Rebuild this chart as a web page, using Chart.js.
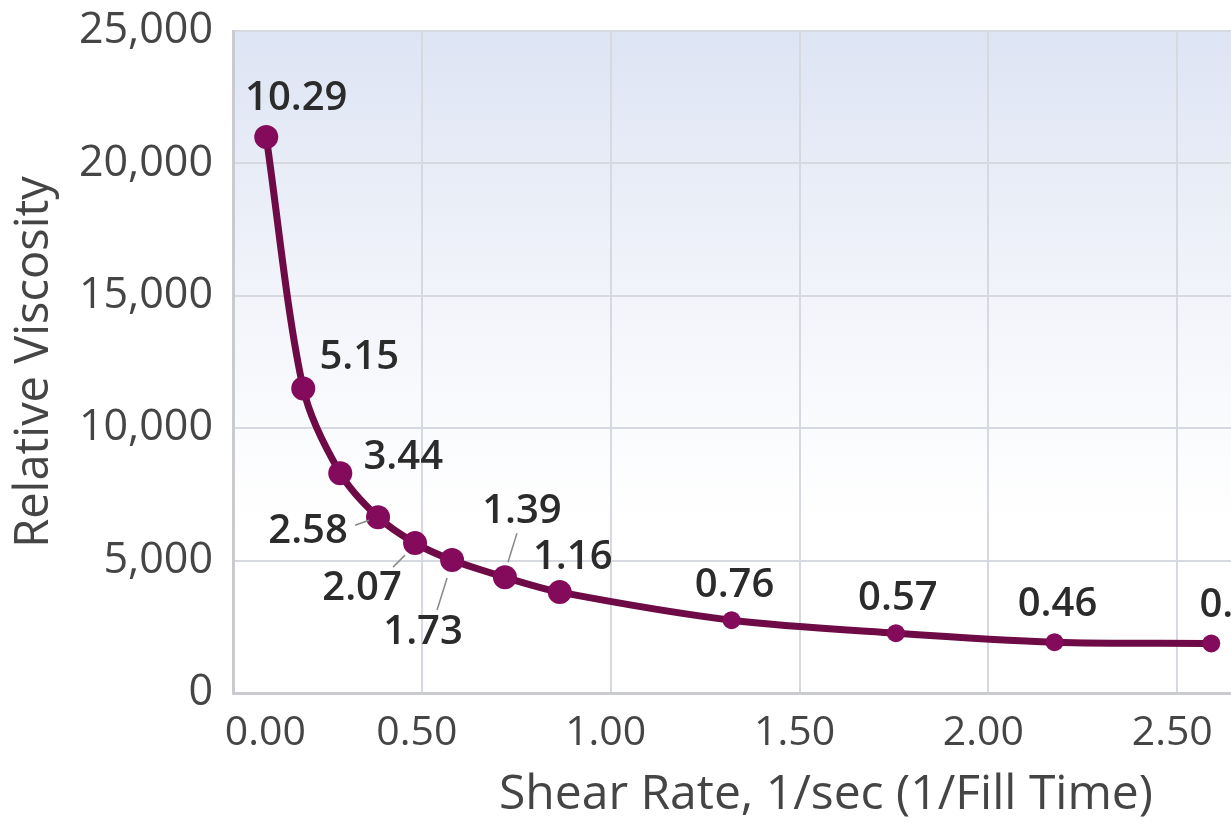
<!DOCTYPE html>
<html lang="en">
<head>
<meta charset="UTF-8">
<title>Relative Viscosity vs Shear Rate</title>
<style>
  html, body { margin: 0; padding: 0; background: #fff; overflow: hidden; }
  /* the chart is wider than the window on purpose: the right part is cut off like the original */
  .chart-wrap { width: 1440px; height: 825px; }
</style>
</head>
<body>
<div class="chart-wrap"><canvas id="viscChart"></canvas></div>

<script src="https://cdn.jsdelivr.net/npm/chart.js"></script>
<script>
// fill time (sec) printed next to each point
const fillTimes = ['10.29', '5.15', '3.44', '2.58', '2.07', '1.73', '1.39', '1.16', '0.76', '0.57', '0.46', '0.39'];
// shear rate, 1/sec
const shearRates = [0.088, 0.186, 0.284, 0.384, 0.482, 0.58, 0.72, 0.865, 1.32, 1.755, 2.175, 2.59];
// relative viscosity
const viscosity = [21000, 11500, 8300, 6640, 5660, 5020, 4370, 3810, 2750, 2260, 1920, 1870];

const xMin = 0, xMax = 3.14, xStep = 0.5;
const yMin = 0, yMax = 25000, yStep = 5000;

// label placement (px from the point) and leader lines
const labelOffsets = [[30, -38], [56, -31], [63, -16], [-70, 14], [-53, 45], [-29, 73],
                      [17, -66], [13, -35], [3, -35], [2, -35], [3, -38], [28, -38]];
const leaders = { 3: [-23, 8, -9, 3], 4: [-22, 24, -10, 12], 5: [-15, 50, -5, 18], 6: [3, -15, 12, -44] };
const pointSizes = [12, 12, 12, 12, 12, 12, 12, 12, 9, 9, 9, 9];

Chart.defaults.font.family = "'Open Sans', sans-serif";

const points = shearRates.map((x, i) => ({ x: x, y: viscosity[i] }));

// light blue fade behind the plot
const plotBackground = {
    id: 'plotBackground',
    beforeDraw(chart) {
        const { ctx, chartArea: a } = chart;
        const g = ctx.createLinearGradient(0, a.top, 0, a.bottom);
        g.addColorStop(0, '#dde4f3');
        g.addColorStop(0.2, '#e7ecf7');
        g.addColorStop(0.4, '#f2f4fa');
        g.addColorStop(0.6, '#fafbfd');
        g.addColorStop(0.75, '#ffffff');
        ctx.save();
        ctx.fillStyle = g;
        ctx.fillRect(a.left, a.top, a.right - a.left, a.bottom - a.top);
        ctx.restore();
    }
};

// fill time labels with small leader lines
const pointLabels = {
    id: 'pointLabels',
    afterDatasetsDraw(chart) {
        const ctx = chart.ctx;
        const meta = chart.getDatasetMeta(0);
        ctx.save();
        meta.data.forEach((pt, i) => {
            const ld = leaders[i];
            if (ld) {
                ctx.strokeStyle = '#8a8a8a';
                ctx.lineWidth = 1.5;
                ctx.beginPath();
                ctx.moveTo(pt.x + ld[0], pt.y + ld[1]);
                ctx.lineTo(pt.x + ld[2], pt.y + ld[3]);
                ctx.stroke();
            }
            ctx.font = "600 40px 'Open Sans', sans-serif";
            ctx.fillStyle = '#2b2b2b';
            ctx.textAlign = 'center';
            ctx.textBaseline = 'middle';
            ctx.fillText(fillTimes[i], pt.x + labelOffsets[i][0], pt.y + labelOffsets[i][1]);
        });
        ctx.restore();
    }
};

const ctx = document.getElementById('viscChart').getContext('2d');

new Chart(ctx, {
    type: 'scatter',
    data: {
        datasets: [{
            label: 'Relative Viscosity',
            data: points,
            showLine: true,
            borderColor: '#6e0a45',
            borderWidth: 7,
            tension: 0.3,
            pointRadius: pointSizes,
            pointBackgroundColor: '#840a5c',
            pointBorderColor: '#840a5c',
            pointBorderWidth: 0,
            clip: false
        }]
    },
    options: {
        responsive: true,
        maintainAspectRatio: false,
        animation: false,
        layout: { padding: { top: 31, right: 21, bottom: 0, left: 0 } },
        plugins: {
            legend: { display: false },
            tooltip: { enabled: false }
        },
        scales: {
            x: {
                type: 'linear',
                min: xMin,
                max: xMax,
                afterFit(scale) {
                    scale.height = 132;
                    scale.paddingLeft = 0;
                    scale.paddingRight = 0;
                },
                ticks: {
                    stepSize: xStep,
                    padding: 16,
                    labelOffset: -5,
                    color: '#454545',
                    font: { size: 41 },
                    maxRotation: 0,
                    autoSkip: false,
                    // the first label sits to the right of the y axis
                    callback: (v) => v === 0 ? '       0.00' : v.toFixed(2)
                },
                grid: { color: '#d6d9df', lineWidth: 2, drawTicks: false },
                border: { color: '#c9cbcf', width: 3 },
                title: {
                    display: true,
                    text: 'Shear Rate, 1/sec (1/Fill Time)',
                    color: '#454545',
                    font: { size: 48 },
                    padding: { top: 0, bottom: 1 }
                }
            },
            y: {
                min: yMin,
                max: yMax,
                afterFit(scale) {
                    scale.width = 233;
                    scale.paddingTop = 0;
                    scale.paddingBottom = 0;
                },
                ticks: {
                    stepSize: yStep,
                    padding: 20,
                    color: '#454545',
                    font: { size: 43 }
                },
                grid: { color: '#d6d9df', lineWidth: 2, drawTicks: false },
                border: { color: '#c9cbcf', width: 3 },
                title: {
                    display: true,
                    text: 'Relative Viscosity',
                    color: '#454545',
                    font: { size: 47 },
                    padding: { top: 6, bottom: 0 }
                }
            }
        }
    },
    plugins: [plotBackground, pointLabels]
});
</script>
</body>
</html>
